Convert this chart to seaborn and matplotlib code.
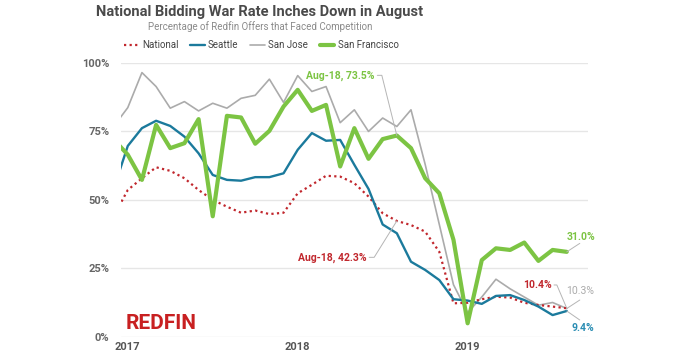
import numpy as np
import pandas as pd
import matplotlib
matplotlib.use("Agg")
import matplotlib.pyplot as plt
import seaborn as sns

# monthly values, Dec 2016 .. Aug 2019 (first point only sits under the left edge)
months = pd.date_range("2016-12-01", "2019-08-01", freq="MS")
national = [44.0, 53.6, 57.9, 61.9, 60.6, 57.9, 53.6, 50.0, 47.5, 45.3, 46.1, 44.8,
            45.3, 52.4, 55.5, 58.8, 58.5, 56.1, 51.2, 45.1, 42.3, 40.8, 38.4, 31.0,
            12.2, 12.4, 13.7, 14.6, 14.3, 12.4, 11.6, 11.0, 10.4]
seattle = [54.0, 69.7, 76.2, 78.9, 77.0, 73.1, 67.0, 59.1, 57.3, 57.0, 58.3, 58.3,
           59.7, 68.3, 74.4, 71.6, 71.9, 62.8, 54.0, 41.0, 37.8, 27.4, 24.4, 20.7,
           13.7, 13.2, 12.0, 14.9, 15.2, 13.4, 11.0, 7.9, 9.4]
san_jose = [76.8, 83.7, 96.5, 91.4, 83.5, 85.9, 82.5, 85.3, 83.5, 87.1, 88.2, 94.1,
            85.6, 95.4, 89.6, 91.4, 78.2, 82.9, 75.0, 79.9, 76.8, 82.9, 63.0, 41.0,
            19.0, 8.8, 14.5, 21.0, 17.5, 14.5, 11.5, 12.5, 10.3]
san_francisco = [72.1, 66.5, 57.3, 77.4, 68.9, 70.7, 79.5, 44.0, 80.7, 80.1, 70.5, 75.2,
                 84.1, 90.2, 82.5, 84.7, 62.2, 76.2, 65.0, 72.2, 73.5, 68.9, 57.9, 52.4,
                 35.4, 4.9, 28.0, 32.3, 31.7, 34.4, 27.7, 31.7, 31.0]
year_labels = ["2017", "2018", "2019"]
y_ticks = [0, 25, 50, 75, 100]

RED = "#c1272d"
BLUE = "#1b7a9c"
GRAY = "#ababab"
GREEN = "#7cc443"
LEAD = "#b5b5b5"

sns.set_style("white")
plt.rcParams["font.family"] = ["Roboto", "DejaVu Sans"]

# month index, Jan 2017 = 0
x = np.arange(len(months)) - 1
df = pd.DataFrame({"m": x, "National": national, "Seattle": seattle,
                   "San Jose": san_jose, "San Francisco": san_francisco})

fig = plt.figure(figsize=(6.8, 3.56), dpi=100)
ax = fig.add_axes([0.1775, 0.0542, 0.6872, 0.7688])

sns.lineplot(data=df, x="m", y="San Jose", ax=ax, color=GRAY, lw=1.2, label="San Jose")
sns.lineplot(data=df, x="m", y="National", ax=ax, color=RED, lw=1.6, ls=(0, (1, 1.5)), label="National")
sns.lineplot(data=df, x="m", y="Seattle", ax=ax, color=BLUE, lw=1.7, label="Seattle")
sns.lineplot(data=df, x="m", y="San Francisco", ax=ax, color=GREEN, lw=3.0, label="San Francisco")

ax.set_xlim(-0.5, 32.5)
ax.set_ylim(0, 100)
ax.set_xlabel("")
ax.set_ylabel("")
for s in ax.spines.values():
    s.set_visible(False)
ax.grid(axis="y", color="#e6e6e6", lw=1)
ax.grid(axis="x", visible=False)

ax.set_yticks(y_ticks)
ax.set_yticklabels([f"{v}%" for v in y_ticks], color="#666666", fontsize=8, fontweight="bold")
ax.tick_params(axis="y", length=0, pad=8)

# tick marks on year boundaries, labels centred on January
ax.set_xticks([-0.5, 11.5, 23.5])
ax.set_xticklabels([])
ax.set_xticks([0, 12, 24], minor=True)
ax.set_xticklabels(year_labels, minor=True, color="#555555", fontsize=8, fontweight="bold")
ax.tick_params(axis="x", which="major", length=3, color="#dddddd")
ax.tick_params(axis="x", which="minor", length=0, pad=4)

# legend on top
handles, labels = ax.get_legend_handles_labels()
order = ["National", "Seattle", "San Jose", "San Francisco"]
h = [handles[labels.index(o)] for o in order]
ax.legend(h, order, loc="center", bbox_to_anchor=(0.301, 1.065), ncol=4, frameon=False,
          fontsize=7, handlelength=1.5, columnspacing=1.2, handletextpad=0.35,
          labelcolor="#444444")

cx = 260 / 680  # header block is centred over the left part of the plot
fig.text(cx, 0.965, "National Bidding War Rate Inches Down in August", ha="center", va="center",
         fontsize=10.5, color="#4a4a4a", fontweight="bold")
fig.text(cx, 0.925, "Percentage of Redfin Offers that Faced Competition", ha="center", va="center",
         fontsize=7, color="#8a8a8a")

fig.text(125.7 / 680, 1 - 333 / 356, "REDFIN", ha="left", va="bottom", fontsize=15,
         color="#c82021", fontweight="bold")

# callouts
aug18 = 20  # position of Aug 2018 in the arrays
last = len(months) - 1
ax.text(17.45, 95.5, f"Aug-18, {san_francisco[aug18]}%", color=GREEN, fontsize=7.5,
        fontweight="bold", ha="right", va="center")
ax.plot([17.62, 17.94, x[aug18]], [95.5, 95.5, san_francisco[aug18]], color=LEAD, lw=0.7)

ax.text(16.86, 29.0, f"Aug-18, {national[aug18]}%", color=RED, fontsize=7.5,
        fontweight="bold", ha="right", va="center")
ax.plot([17.05, 17.4, x[aug18]], [29.0, 29.0, national[aug18]], color=LEAD, lw=0.7)

ax.text(30.97, 36.6, f"{san_francisco[last]:.1f}%", color=GREEN, fontsize=7.5,
        fontweight="bold", ha="left", va="center")
ax.plot([x[last], 31.92], [san_francisco[last], 34.1], color=LEAD, lw=0.7)

ax.text(29.92, 18.9, f"{national[last]:.1f}%", color=RED, fontsize=7.5,
        fontweight="bold", ha="right", va="center")
ax.plot([30.1, 30.3, x[last]], [18.9, 18.9, national[last]], color=LEAD, lw=0.7)

ax.text(30.97, 16.8, f"{san_jose[last]:.1f}%", color=GRAY, fontsize=7.5,
        ha="left", va="center")
ax.plot([x[last], 31.92], [san_jose[last], 13.4], color=LEAD, lw=0.7)

ax.text(31.33, 3.1, f"{seattle[last]:.1f}%", color="#2a8db3", fontsize=7.5,
        fontweight="bold", ha="left", va="center")
ax.plot([x[last], 31.92], [seattle[last], 6.1], color=LEAD, lw=0.7)

fig.savefig("out.png", dpi=100)
